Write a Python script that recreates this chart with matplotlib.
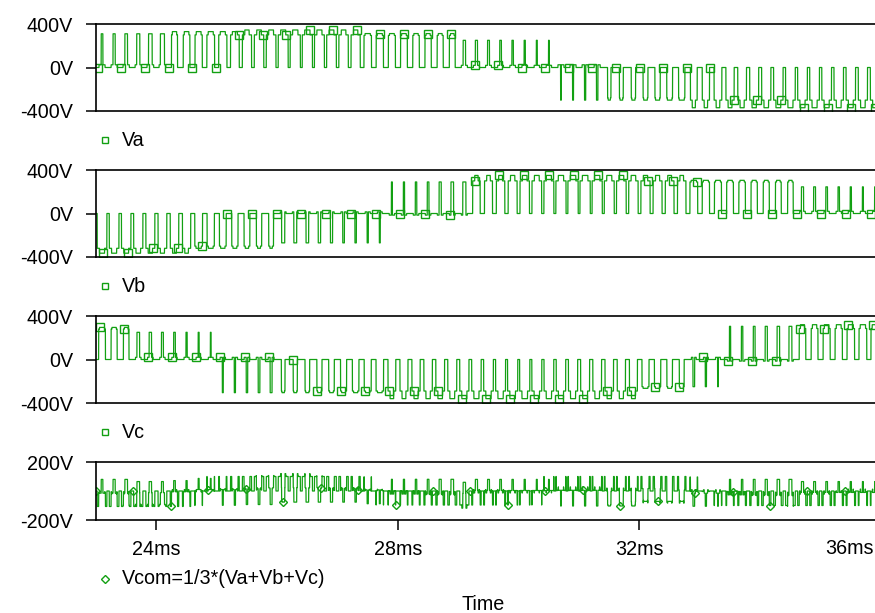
import numpy as np
import matplotlib
matplotlib.use("Agg")
import matplotlib.pyplot as plt
from matplotlib.lines import Line2D

plt.rcParams['font.family'] = ['Liberation Sans', 'DejaVu Sans']

# ---------------- data ----------------
t_start_ms = 23.0          # first carrier cycle start
carrier_ms = 0.2           # PWM carrier period
x_ticks = [24, 28, 32, 36]
x_tick_labels = ['24ms', '28ms', '32ms', '36ms']
phase_y_ticks = [-400, 0, 400]
phase_y_labels = ['-400V', '0V', '400V']
com_y_ticks = [-200, 200]
com_y_labels = ['-200V', '200V']
names = ['Va', 'Vb', 'Vc']
com_name = 'Vcom=1/3*(Va+Vb+Vc)'

# level segments per phase: (number of cycles, shoulder level V, peak level V)
va_levels = [(6, 25, 310), (6, 300, 330), (10, 300, 345), (8, 295, 312),
             (8, 20, 250), (4, 25, -300), (7, -280, -300), (16, -300, -370)]
# outer pulse width (shoulder) and inner pulse width (peak), % of carrier cycle
va_outer = [50, 50, 52, 52, 55, 55,
            50, 55, 60, 64, 68, 72,
            76, 78, 80, 82, 84, 84, 82, 80, 78, 76,
            62, 60, 58, 56, 54, 52, 50, 48,
            50, 50, 48, 48, 46, 46, 44, 44,
            50, 50, 50, 50,
            28, 32, 36, 40, 44, 48, 52,
            56, 60, 64, 68, 72, 74, 76, 78, 80, 80, 80, 80, 78, 78, 76, 76]
va_inner = [14, 18, 22, 26, 30, 34,
            36, 38, 40, 42, 42, 42,
            36, 38, 40, 42, 44, 44, 42, 40, 38, 36,
            44, 42, 40, 38, 36, 34, 32, 30,
            20, 18, 16, 14, 12, 10, 8, 6,
            6, 8, 10, 12,
            18, 22, 26, 30, 34, 38, 42,
            26, 28, 30, 32, 34, 36, 38, 40, 42, 42, 42, 42, 40, 40, 38, 38]

vb_levels = [(8, -320, -365), (7, -300, -320), (9, 15, -270), (7, -15, 290),
             (18, 300, 350), (9, 290, 305), (7, 20, 245)]
vb_outer = [80, 80, 78, 76, 74, 72, 70, 68,
            64, 60, 56, 52, 48, 44, 40,
            48, 48, 46, 46, 44, 44, 42, 42, 40,
            44, 44, 46, 46, 48, 48, 50,
            62, 66, 70, 74, 78, 80, 82, 84, 85, 85, 84, 82, 80, 78, 76, 74, 72, 70,
            64, 60, 58, 56, 54, 52, 50, 48, 46,
            46, 46, 44, 44, 42, 42, 40]
vb_inner = [42, 42, 40, 38, 36, 34, 32, 30,
            44, 40, 36, 32, 28, 24, 20,
            26, 24, 22, 20, 18, 14, 12, 10, 8,
            8, 10, 12, 14, 18, 22, 26,
            28, 30, 32, 36, 38, 40, 42, 44, 46, 46, 44, 42, 40, 38, 36, 34, 32, 30,
            44, 42, 40, 38, 36, 34, 32, 30, 28,
            18, 16, 14, 12, 10, 8, 6]

vc_levels = [(3, 280, 295), (7, 20, 250), (5, 20, -305), (9, -290, -305),
             (21, -290, -360), (4, -250, -265), (3, 20, -250), (6, -15, 305),
             (7, 285, 320)]
vc_outer = [56, 50, 46,
            46, 46, 44, 44, 42, 42, 40,
            44, 44, 46, 46, 48,
            30, 34, 38, 42, 46, 50, 54, 58, 62,
            64, 66, 68, 70, 72, 74, 76, 78, 80, 82, 84, 84, 82, 80, 78, 76, 74, 72, 70, 68, 66,
            58, 52, 46, 40,
            40, 40, 40,
            44, 44, 46, 46, 48, 48,
            54, 56, 58, 60, 62, 64, 66]
vc_inner = [42, 36, 30,
            22, 20, 16, 14, 10, 8, 6,
            8, 10, 12, 14, 16,
            20, 24, 26, 28, 30, 32, 34, 36, 38,
            30, 32, 34, 36, 38, 40, 42, 42, 44, 44, 46, 46, 44, 44, 42, 42, 40, 38, 36, 34, 32,
            40, 36, 32, 28,
            14, 10, 6,
            10, 12, 15, 18, 21, 24,
            34, 36, 38, 40, 42, 44, 46]

# ---------------- build traces ----------------
SPC = 200  # samples per carrier cycle


def build(levels, outer, inner):
    shoulder = np.concatenate([[s] * n for n, s, p in levels]).astype(float)
    peak = np.concatenate([[p] * n for n, s, p in levels]).astype(float)
    outer = np.asarray(outer, float) / 100.0
    inner = np.asarray(inner, float) / 100.0
    ncyc = len(outer)
    idx = np.arange(ncyc * SPC)
    k = idx // SPC
    frac = (idx % SPC + 0.5) / SPC
    d = np.abs(frac - 0.5)
    v = np.where(d < inner[k] / 2, peak[k], np.where(d < outer[k] / 2, shoulder[k], 0.0))
    t = t_start_ms + idx * carrier_ms / SPC
    return t, v


t, va = build(va_levels, va_outer, va_inner)
_, vb = build(vb_levels, vb_outer, vb_inner)
_, vc = build(vc_levels, vc_outer, vc_inner)
vcom = (va + vb + vc) / 3.0

# ---------------- figure ----------------
W, H = 875, 613
fig = plt.figure(figsize=(W / 100, H / 100), dpi=100)
green = '#12a012'
fs = 14.2
left_px, right_px = 96, 881
panels = [(24, 111), (170, 257), (316, 403), (462, 520)]
msq = 6


def make_ax(top, bot):
    ax = fig.add_axes([left_px / W, 1 - bot / H, (right_px - left_px) / W, (bot - top) / H])
    ax.set_xlim(23.0, 36.0)
    for side in ['top', 'bottom', 'left']:
        ax.spines[side].set_linewidth(1.2)
        ax.spines[side].set_color('black')
    ax.spines['right'].set_visible(False)
    ax.tick_params(axis='y', length=7.5, width=1.1, pad=9, labelsize=fs, direction='out')
    return ax


traces = [va, vb, vc]
marker_offsets = [23.03, 23.12, 23.06]
marker_steps = [0.39, 0.41, 0.40]
for i, (top, bot) in enumerate(panels[:3]):
    ax = make_ax(top, bot)
    ax.set_ylim(-400, 400)
    ax.plot(t, traces[i], color=green, lw=0.9)
    mt = np.arange(marker_offsets[i], 36.0, marker_steps[i])
    mi = np.clip(np.searchsorted(t, mt), 0, len(t) - 1)
    ax.plot(t[mi], traces[i][mi], linestyle='none', marker='s', ms=msq, mfc='none',
            mec=green, mew=1.0)
    ax.set_yticks(phase_y_ticks)
    ax.set_yticklabels(phase_y_labels)
    ax.set_xticks([])
    # legend entry
    ly = bot + 29
    fig.add_artist(Line2D([105 / W], [1 - ly / H], transform=fig.transFigure, marker='s',
                          ms=msq - 1, mfc='none', mec=green, mew=1.0, linestyle='none'))
    fig.text(122 / W, 1 - ly / H, names[i], ha='left', va='center', fontsize=fs)

ax = make_ax(*panels[3])
ax.set_ylim(-200, 200)
ax.plot(t, vcom, color=green, lw=0.9)
mt = np.arange(23.0, 36.0, 0.62)
mi = np.clip(np.searchsorted(t, mt), 0, len(t) - 1)
ax.plot(t[mi], vcom[mi], linestyle='none', marker='D', ms=4, mfc='none', mec=green, mew=1.0)
ax.set_yticks(com_y_ticks)
ax.set_yticklabels(com_y_labels)
ax.set_xticks(x_ticks)
ax.set_xticklabels(x_tick_labels[:-1] + [''])
ax.tick_params(axis='x', length=7.5, width=1.1, pad=7, labelsize=fs, direction='out')
# the last tick label sits against the right edge of the picture
lbl = ax.get_xticklabels()[0]
fig.text(874 / W, 1 - 548 / H, x_tick_labels[-1], ha='right', va='center', fontsize=fs)

fig.add_artist(Line2D([105 / W], [1 - 579 / H], transform=fig.transFigure, marker='D',
                      ms=4, mfc='none', mec=green, mew=1.0, linestyle='none'))
fig.text(122 / W, 1 - 579 / H, com_name, ha='left', va='center', fontsize=fs)
fig.text(483 / W, 1 - 604 / H, 'Time', ha='center', va='center', fontsize=fs)

fig.savefig('out.png', dpi=100)
